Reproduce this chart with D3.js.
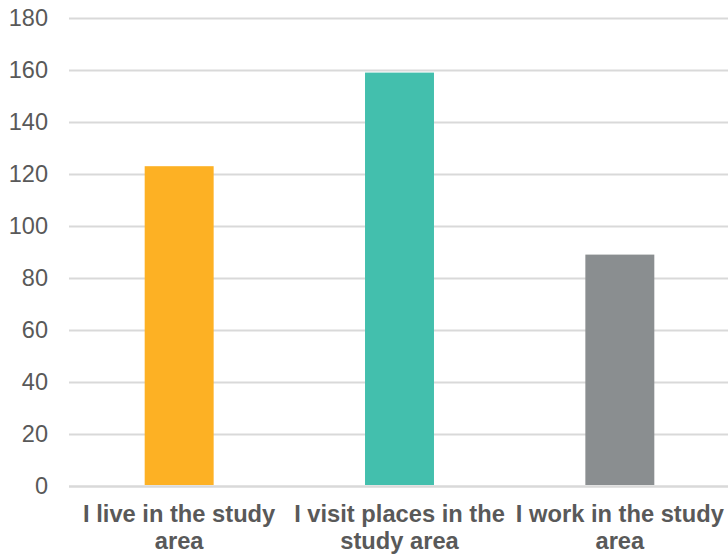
<!DOCTYPE html>
<html>
<head>
<meta charset="utf-8">
<script src="https://cdn.jsdelivr.net/npm/d3@7"></script>
<style>
  html, body { margin: 0; padding: 0; background: #fff; }
  svg { display: block; font-family: "Liberation Sans", Arial, sans-serif; }
</style>
</head>
<body>
<svg id="chart" width="728" height="556"></svg>
<script>
// Survey responses: relationship to the study area
const categories = ["I live in the study area", "I visit places in the study area", "I work in the study area"];
const counts = [123, 159, 89];
const barColors = ["#FDB124", "#43BFAD", "#8A8E90"];
const yTicks = [0, 20, 40, 60, 80, 100, 120, 140, 160, 180];

const svg = d3.select("#chart");
const plot = { left: 69, right: 730, top: 18, bottom: 486 };

const x = d3.scaleBand()
  .domain(categories)
  .range([plot.left, plot.right])
  .paddingInner(0.687)
  .paddingOuter(0.3435);

const y = d3.scaleLinear()
  .domain([0, 180])
  .range([plot.bottom, plot.top]);

// Horizontal gridlines with value labels
const yAxis = d3.axisLeft(y)
  .tickValues(yTicks)
  .tickSize(-(plot.right - plot.left))
  .tickPadding(21)
  .tickFormat(d3.format("d"));

const gy = svg.append("g")
  .attr("transform", `translate(${plot.left},0)`)
  .call(yAxis);
gy.select(".domain").remove();
gy.selectAll(".tick line")
  .attr("stroke", "#d9d9d9")
  .attr("stroke-width", d => d === 0 ? 2.6 : 2);
gy.selectAll(".tick text")
  .attr("fill", "#595959")
  .attr("font-size", "23.5px")
  .attr("font-family", "Liberation Sans, Arial, sans-serif");

// Bars
svg.append("g")
  .selectAll("rect")
  .data(categories)
  .join("rect")
  .attr("x", d => x(d))
  .attr("width", x.bandwidth())
  .attr("y", (d, i) => y(counts[i]))
  .attr("height", (d, i) => y(0) - y(counts[i]) - 1)
  .attr("fill", (d, i) => barColors[i]);

// Category labels, wrapped to the band width
const xAxis = d3.axisBottom(x).tickSize(0).tickPadding(0);
const gx = svg.append("g")
  .attr("transform", `translate(0,${plot.bottom})`)
  .call(xAxis);
gx.select(".domain").remove();

function wrap(textSel, maxWidth) {
  textSel.each(function () {
    const text = d3.select(this);
    const words = text.text().split(/\s+/);
    text.text(null);
    let line = [];
    let lineNo = 0;
    let tspan = text.append("tspan").attr("x", 0).attr("y", 36);
    for (const w of words) {
      line.push(w);
      tspan.text(line.join(" "));
      if (tspan.node().getComputedTextLength() > maxWidth && line.length > 1) {
        line.pop();
        tspan.text(line.join(" "));
        line = [w];
        lineNo++;
        tspan = text.append("tspan").attr("x", 0).attr("y", 36 + lineNo * 26.5).text(w);
      }
    }
  });
}

gx.selectAll(".tick text")
  .attr("fill", "#595959")
  .attr("font-size", "23.7px")
  .attr("font-weight", "bold")
  .attr("font-family", "Liberation Sans, Arial, sans-serif")
  .attr("dy", null)
  .call(wrap, x.step() - 2);
</script>
</body>
</html>
